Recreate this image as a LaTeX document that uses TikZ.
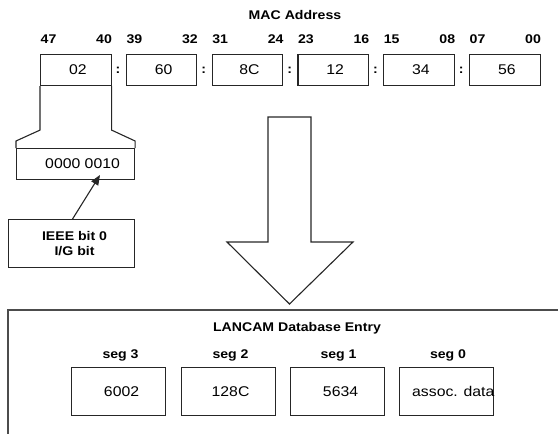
\documentclass[tikz,border=0pt]{standalone}
\usepackage{fontspec}
\setmainfont{Liberation Sans}[FakeStretch=1.12]
\usetikzlibrary{arrows.meta,calc}
\newcommand\myreg{\fontsize{14.1}{17}\selectfont}
\newcommand\mybold{\fontsize{12.6}{14.5}\selectfont\bfseries}
\tikzset{
  ln/.style={line width=1.1pt, draw=black!85},
  macbox/.style={ln, rectangle, minimum width=70.5pt, minimum height=31pt, inner sep=0pt, anchor=north west, font=\myreg},
  segbox/.style={ln, rectangle, minimum width=94pt, minimum height=48pt, inner sep=0pt, anchor=north west, font=\myreg},
  btxt/.style={inner sep=0pt, font=\mybold},
  rtxt/.style={inner sep=0pt, font=\myreg},
}
\begin{document}
\begin{tikzpicture}[x=1pt, y=-1pt]
\useasboundingbox (0,0) rectangle (558,434);
% title
\node[btxt] (mac) at (295,15) {MAC Address};
% MAC boxes
\foreach \i/\t/\hi/\lo in {0/02/47/40,1/60/39/32,2/8C/31/24,3/12/23/16,4/34/15/08,5/56/07/00}{
  \node[macbox] (m\i) at ({40+85.8*\i},54) {\hspace*{4pt}\t};
  \node[btxt, anchor=west] (h\i) at ($(m\i.north west)+(0.5,-15)$) {\hi};
  \node[btxt, anchor=east] (l\i) at ($(m\i.north east)+(0.5,-15)$) {\lo};
}
\foreach \i in {0,...,4}{
  \node[btxt] (c\i) at ({118+85.8*\i},70) {:};
}
% bits box and funnel
\node[ln, rectangle, minimum width=118pt, minimum height=31pt, inner sep=0pt, anchor=north west, font=\myreg] (bits) at (16,148) {\hspace*{14pt}0000 0010};
\draw[ln] (m0.south west) -- ++(0,44) -- ($(bits.north west)+(0,-7)$) -- (bits.north west);
\draw[ln] (m0.south east) -- ++(0,44) -- ($(bits.north east)+(0,-7)$) -- (bits.north east);
% IEEE box
\node[ln, rectangle, minimum width=126pt, minimum height=48pt, inner sep=0pt, anchor=north west, align=center, font=\mybold] (ieee) at (8,219) {\hspace*{6pt}IEEE bit 0\\[0pt]\hspace*{6pt}I/G bit};
\coordinate (bitpt) at (100,175);
\draw[ln, -{Triangle[length=10pt,width=8pt]}] ($(ieee.north)+(1,0)$) -- (bitpt);
% big hollow arrow
\draw[ln] (268,117) -- (311,117) -- (311,242) -- (353,242) -- (289.5,304) -- (227,242) -- (268,242) -- cycle;
% database frame
\draw[line width=1.1pt, draw=black!70] (8,436) -- (8,310) -- (560,310);
\node[btxt] (lt) at (297,328) {LANCAM Database Entry};
% seg boxes
\node[segbox] (s3) at (71,367) {\hspace*{6pt}6002};
\node[segbox] (s2) at (181,367) {\hspace*{4pt}128C};
\node[segbox] (s1) at (290,367) {\hspace*{6pt}5634};
\node[segbox] (s0) at (399,367) {};
\node[rtxt, anchor=west] (adata) at (412,391) {assoc. data};
\node[btxt] (g3) at ($(s3.north)+(2,-12)$) {seg 3};
\node[btxt] (g2) at ($(s2.north)+(2,-12)$) {seg 2};
\node[btxt] (g1) at ($(s1.north)+(1,-12)$) {seg 1};
\node[btxt] (g0) at ($(s0.north)+(1.5,-12)$) {seg 0};
\end{tikzpicture}
\end{document}
